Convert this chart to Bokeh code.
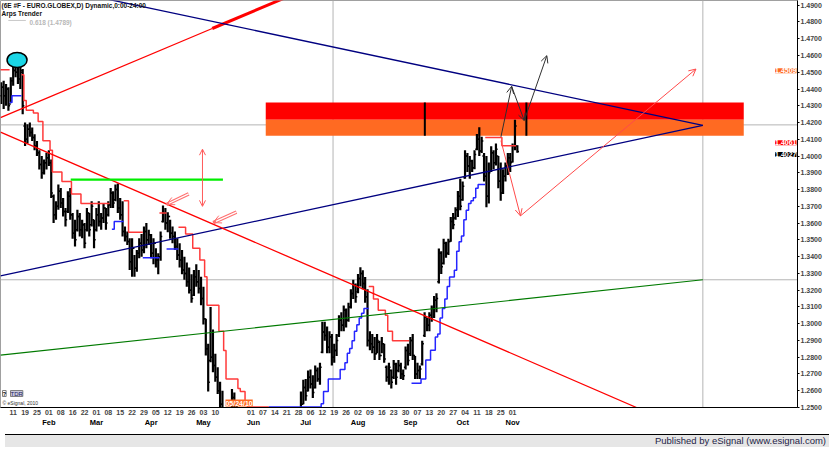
from bokeh.plotting import figure
from bokeh.models import (Range1d, FixedTicker, PrintfTickFormatter, Span, Label, Arrow, OpenHead, Div,
                          LinearAxis)
from bokeh.layouts import column
from bokeh.embed import file_html
from bokeh.resources import INLINE

# ---------------- data (trading-day index 0 = Mon 11 Jan 2010) ----------------
FIRST_BAR = -5
BAR_HIGH = [
    1.4440, 1.4450, 1.4430, 1.4410, 1.4470, 1.4550, 1.4580, 1.4560, 1.4560, 1.4520,
    1.4200, 1.4190, 1.4200, 1.4170, 1.4130, 1.4090, 1.4035, 1.4000, 1.3980, 1.4020,
    1.4035, 1.3980, 1.3770, 1.3730, 1.3830, 1.3810, 1.3750, 1.3690, 1.3790, 1.3810,
    1.3660, 1.3620, 1.3680, 1.3660, 1.3620, 1.3600, 1.3690, 1.3660, 1.3730, 1.3620,
    1.3690, 1.3730, 1.3660, 1.3720, 1.3690, 1.3730, 1.3810, 1.3790, 1.3830, 1.3836,
    1.3750, 1.3730, 1.3580, 1.3550, 1.3510, 1.3510, 1.3410, 1.3440, 1.3510, 1.3535,
    1.3580, 1.3600, 1.3560, 1.3535, 1.3510, 1.3450, 1.3420, 1.3550, 1.3705, 1.3690,
    1.3665, 1.3620, 1.3580, 1.3550, 1.3510, 1.3480, 1.3440, 1.3400, 1.3365, 1.3335,
    1.3295, 1.3320, 1.3355, 1.3320, 1.3280, 1.3220, 1.3030, 1.2880, 1.3100, 1.2966,
    1.2820, 1.2740, 1.2653, 1.2600, 1.2450, 1.2380, 1.2450, 1.2610, 1.2590, 1.2520,
    1.2400, 1.2350, 1.2380, 1.2400, 1.2340, 1.2300, 1.2300, 1.2330, 1.2240, 1.2100,
    1.2010, 1.2010, 1.2060, 1.2110, 1.2120, 1.2170, 1.2350, 1.2380, 1.2400, 1.2330,
    1.2340, 1.2380, 1.2300, 1.2320, 1.2290, 1.2350, 1.2596, 1.2665, 1.2670, 1.2720,
    1.2727, 1.2693, 1.2750, 1.2738, 1.2767, 1.3011, 1.3011, 1.2983, 1.2955, 1.2938,
    1.2881, 1.2938, 1.3051, 1.3068, 1.3108, 1.3091, 1.3125, 1.3205, 1.3262, 1.3239,
    1.3296, 1.3336, 1.3319, 1.3279, 1.3205, 1.2955, 1.2938, 1.2921, 1.2938, 1.2898,
    1.2921, 1.2881, 1.2750, 1.2767, 1.2727, 1.2784, 1.2767, 1.2784, 1.2767, 1.2727,
    1.2864, 1.2881, 1.2921, 1.2938, 1.2807, 1.2767, 1.2750, 1.2898, 1.3068, 1.3034,
    1.3068, 1.3108, 1.3165, 1.3182, 1.3449, 1.3432, 1.3506, 1.3489, 1.3506, 1.3637,
    1.3660, 1.3694, 1.3791, 1.3865, 1.3848, 1.4035, 1.4018, 1.4001, 1.3978, 1.4035,
    1.4132, 1.4172, 1.4115, 1.4018, 1.4001, 1.3961, 1.4058, 1.4035, 1.4075, 1.4001,
    1.3961, 1.3922, 1.3961, 1.4018, 1.4018, 1.4075, 1.4217, 1.4064,
]
BAR_LOW = [
    1.4310, 1.4280, 1.4300, 1.4270, 1.4320, 1.4420, 1.4470, 1.4430, 1.4400, 1.4250,
    1.4060, 1.4075, 1.4115, 1.4090, 1.4035, 1.4000, 1.3920, 1.3865, 1.3890, 1.3920,
    1.3940, 1.3750, 1.3600, 1.3620, 1.3680, 1.3690, 1.3640, 1.3580, 1.3660, 1.3620,
    1.3506, 1.3460, 1.3550, 1.3520, 1.3510, 1.3450, 1.3550, 1.3520, 1.3580, 1.3450,
    1.3550, 1.3580, 1.3560, 1.3600, 1.3560, 1.3640, 1.3690, 1.3690, 1.3730, 1.3660,
    1.3620, 1.3520, 1.3490, 1.3470, 1.3320, 1.3280, 1.3280, 1.3310, 1.3390, 1.3400,
    1.3420, 1.3450, 1.3470, 1.3390, 1.3355, 1.3335, 1.3295, 1.3375, 1.3603, 1.3560,
    1.3546, 1.3506, 1.3480, 1.3440, 1.3380, 1.3335, 1.3295, 1.3262, 1.3220, 1.3180,
    1.3125, 1.3165, 1.3220, 1.3180, 1.3110, 1.2995, 1.2810, 1.2596, 1.2770, 1.2710,
    1.2653, 1.2580, 1.2480, 1.2400, 1.2280, 1.2220, 1.2300, 1.2420, 1.2455, 1.2360,
    1.2250, 1.2200, 1.2230, 1.2270, 1.2150, 1.2140, 1.2110, 1.2180, 1.2050, 1.1960,
    1.1880, 1.1890, 1.1920, 1.1960, 1.1980, 1.2010, 1.2130, 1.2240, 1.2260, 1.2180,
    1.2220, 1.2250, 1.2180, 1.2190, 1.2150, 1.2200, 1.2450, 1.2520, 1.2540, 1.2596,
    1.2613, 1.2557, 1.2613, 1.2653, 1.2636, 1.2824, 1.2898, 1.2824, 1.2824, 1.2750,
    1.2767, 1.2807, 1.2921, 1.2955, 1.2955, 1.2977, 1.3011, 1.3091, 1.3148, 1.3125,
    1.3182, 1.3222, 1.3205, 1.3125, 1.2864, 1.2841, 1.2824, 1.2784, 1.2824, 1.2784,
    1.2824, 1.2767, 1.2653, 1.2636, 1.2613, 1.2670, 1.2636, 1.2710, 1.2670, 1.2664,
    1.2727, 1.2750, 1.2807, 1.2784, 1.2670, 1.2670, 1.2670, 1.2750, 1.2921, 1.2955,
    1.2955, 1.3011, 1.3034, 1.3068, 1.3239, 1.3296, 1.3353, 1.3393, 1.3410, 1.3489,
    1.3563, 1.3620, 1.3637, 1.3677, 1.3734, 1.3865, 1.3905, 1.3865, 1.3905, 1.3922,
    1.4035, 1.4001, 1.4018, 1.3848, 1.3694, 1.3717, 1.3905, 1.3922, 1.3944, 1.3808,
    1.3734, 1.3774, 1.3848, 1.3887, 1.3905, 1.3961, 1.4035, 1.4020,
]
BAR_OPEN = [
    1.4360, 1.4410, 1.4360, 1.4400, 1.4310, 1.4450, 1.4510, 1.4500, 1.4460, 1.4500,
    1.4180, 1.4100, 1.4160, 1.4140, 1.4110, 1.4060, 1.4020, 1.3950, 1.3900, 1.3960,
    1.3990, 1.3960, 1.3760, 1.3650, 1.3700, 1.3790, 1.3720, 1.3670, 1.3670, 1.3760,
    1.3650, 1.3540, 1.3560, 1.3640, 1.3560, 1.3590, 1.3560, 1.3660, 1.3590, 1.3620,
    1.3560, 1.3650, 1.3610, 1.3630, 1.3690, 1.3650, 1.3710, 1.3780, 1.3740, 1.3800,
    1.3690, 1.3650, 1.3550, 1.3520, 1.3490, 1.3370, 1.3450, 1.3330, 1.3420, 1.3480,
    1.3440, 1.3550, 1.3500, 1.3530, 1.3420, 1.3480, 1.3380, 1.3400, 1.3610, 1.3660,
    1.3600, 1.3640, 1.3540, 1.3520, 1.3460, 1.3410, 1.3380, 1.3320, 1.3300, 1.3250,
    1.3200, 1.3170, 1.3280, 1.3250, 1.3210, 1.3150, 1.3030, 1.2850, 1.2780, 1.2800,
    1.2750, 1.2680, 1.2600, 1.2520, 1.2440, 1.2330, 1.2300, 1.2420, 1.2560, 1.2480,
    1.2400, 1.2300, 1.2260, 1.2340, 1.2300, 1.2200, 1.2270, 1.2230, 1.2200, 1.2090,
    1.1990, 1.1950, 1.1960, 1.2000, 1.2090, 1.2020, 1.2130, 1.2300, 1.2280, 1.2380,
    1.2260, 1.2290, 1.2360, 1.2220, 1.2260, 1.2230, 1.2460, 1.2520, 1.2620, 1.2600,
    1.2680, 1.2640, 1.2620, 1.2720, 1.2670, 1.2830, 1.2950, 1.2930, 1.2860, 1.2920,
    1.2800, 1.2840, 1.2930, 1.3020, 1.2990, 1.3080, 1.3020, 1.3100, 1.3180, 1.3230,
    1.3190, 1.3270, 1.3300, 1.3240, 1.3160, 1.2900, 1.2880, 1.2860, 1.2820, 1.2890,
    1.2810, 1.2880, 1.2740, 1.2680, 1.2720, 1.2680, 1.2760, 1.2720, 1.2750, 1.2700,
    1.2740, 1.2840, 1.2820, 1.2900, 1.2810, 1.2700, 1.2720, 1.2760, 1.2930, 1.3040,
    1.2990, 1.3050, 1.3090, 1.3140, 1.3250, 1.3420, 1.3360, 1.3480, 1.3420, 1.3490,
    1.3610, 1.3630, 1.3680, 1.3760, 1.3740, 1.3870, 1.4000, 1.3940, 1.3970, 1.3930,
    1.4040, 1.4100, 1.4030, 1.4000, 1.3880, 1.3760, 1.3910, 1.4020, 1.3960, 1.4000,
    1.3850, 1.3780, 1.3880, 1.3940, 1.3990, 1.3965, 1.4060, 1.4060,
]
BAR_CLOSE = [
    1.4410, 1.4360, 1.4400, 1.4300, 1.4450, 1.4510, 1.4500, 1.4460, 1.4510, 1.4300,
    1.4100, 1.4160, 1.4140, 1.4110, 1.4060, 1.4020, 1.3950, 1.3900, 1.3960, 1.3990,
    1.3960, 1.3780, 1.3650, 1.3700, 1.3790, 1.3720, 1.3670, 1.3620, 1.3760, 1.3650,
    1.3540, 1.3500, 1.3640, 1.3560, 1.3590, 1.3480, 1.3660, 1.3560, 1.3700, 1.3500,
    1.3650, 1.3610, 1.3630, 1.3690, 1.3600, 1.3710, 1.3780, 1.3720, 1.3800, 1.3690,
    1.3650, 1.3550, 1.3520, 1.3490, 1.3370, 1.3450, 1.3330, 1.3420, 1.3480, 1.3440,
    1.3550, 1.3500, 1.3530, 1.3420, 1.3480, 1.3380, 1.3400, 1.3520, 1.3660, 1.3600,
    1.3640, 1.3540, 1.3520, 1.3460, 1.3410, 1.3380, 1.3320, 1.3300, 1.3250, 1.3200,
    1.3150, 1.3280, 1.3250, 1.3210, 1.3150, 1.3030, 1.2850, 1.2650, 1.2800, 1.2750,
    1.2680, 1.2600, 1.2520, 1.2440, 1.2330, 1.2300, 1.2420, 1.2560, 1.2480, 1.2400,
    1.2300, 1.2260, 1.2340, 1.2300, 1.2200, 1.2270, 1.2230, 1.2200, 1.2090, 1.1990,
    1.1950, 1.1960, 1.2000, 1.2090, 1.2000, 1.2130, 1.2300, 1.2280, 1.2380, 1.2260,
    1.2290, 1.2360, 1.2220, 1.2260, 1.2230, 1.2330, 1.2520, 1.2620, 1.2570, 1.2680,
    1.2640, 1.2590, 1.2720, 1.2670, 1.2740, 1.2950, 1.2930, 1.2860, 1.2920, 1.2800,
    1.2840, 1.2900, 1.3020, 1.2990, 1.3080, 1.3020, 1.3100, 1.3180, 1.3230, 1.3160,
    1.3270, 1.3300, 1.3240, 1.3160, 1.2900, 1.2880, 1.2860, 1.2820, 1.2900, 1.2810,
    1.2880, 1.2790, 1.2680, 1.2740, 1.2650, 1.2760, 1.2680, 1.2750, 1.2700, 1.2690,
    1.2840, 1.2780, 1.2900, 1.2810, 1.2700, 1.2720, 1.2730, 1.2880, 1.3040, 1.2990,
    1.3050, 1.3090, 1.3140, 1.3150, 1.3420, 1.3340, 1.3480, 1.3420, 1.3490, 1.3610,
    1.3590, 1.3680, 1.3760, 1.3700, 1.3820, 1.4000, 1.3940, 1.3970, 1.3930, 1.4010,
    1.4100, 1.4030, 1.4090, 1.3880, 1.3760, 1.3900, 1.4020, 1.3960, 1.4040, 1.3850,
    1.3780, 1.3880, 1.3940, 1.3990, 1.3960, 1.4060, 1.4180, 1.4027,
]

# Arps Trender runs: (first bar, last bar, level)
TREND_RED = [
    (-5, -2, 1.4515),
    (4, 4, 1.4485), (5, 5, 1.4331), (6, 8, 1.4274), (9, 10, 1.4257), (11, 12, 1.4206),
    (13, 15, 1.4092), (16, 16, 1.4035), (17, 20, 1.3905), (21, 24, 1.3848),
    (25, 28, 1.3774), (29, 40, 1.3717),
    (47, 48, 1.3734), (49, 54, 1.3546),
    (62, 64, 1.3660),
    (70, 72, 1.3575), (73, 75, 1.3535), (76, 78, 1.3450), (79, 80, 1.3380), (81, 81, 1.3280),
    (82, 86, 1.3110), (87, 88, 1.2955), (89, 89, 1.2840), (90, 94, 1.2670), (95, 95, 1.2613),
    (96, 97, 1.2596), (98, 98, 1.2540), (99, 107, 1.2503),
    (150, 151, 1.3222), (152, 153, 1.3148), (154, 156, 1.3080), (157, 157, 1.3051),
    (158, 159, 1.2955), (160, 166, 1.2898),
    (199, 205, 1.4110), (206, 211, 1.4061),
]
TREND_BLUE = [
    (-1, -1, 1.4320), (0, 3, 1.4360),
    (42, 42, 1.3563), (43, 46, 1.3610),
    (55, 61, 1.3393),
    (65, 69, 1.3445),
    (108, 129, 1.2503), (130, 130, 1.2522), (131, 132, 1.2596), (133, 137, 1.2670),
    (138, 139, 1.2727), (140, 140, 1.2767), (141, 141, 1.2824), (142, 142, 1.2852),
    (143, 143, 1.2898), (144, 144, 1.2955), (145, 145, 1.2994), (146, 146, 1.3034),
    (147, 147, 1.3063), (148, 149, 1.3091),
    (168, 171, 1.2645), (172, 173, 1.2670), (174, 175, 1.2784), (176, 177, 1.2841),
    (178, 178, 1.2921), (179, 179, 1.2938), (180, 180, 1.3034), (181, 181, 1.3091),
    (182, 182, 1.3148), (183, 183, 1.3222), (184, 185, 1.3279), (186, 186, 1.3319),
    (187, 187, 1.3432), (188, 188, 1.3489), (189, 189, 1.3523), (190, 190, 1.3620),
    (191, 191, 1.3677), (192, 192, 1.3717), (193, 193, 1.3734), (194, 194, 1.3751),
    (195, 195, 1.3808), (196, 198, 1.3831),
]

WEEK_LABELS = ["11", "19", "25", "01", "08", "16", "22", "01", "08", "15", "22", "29",
               "05", "12", "19", "26", "03", "10", "17", "24", "01", "07", "14", "21", "28",
               "06", "12", "19", "26", "02", "09", "16", "23", "30", "07", "13", "20", "27",
               "04", "11", "18", "25", "01"]
MONTH_NAMES = ["Feb", "Mar", "Apr", "May", "Jun", "Jul", "Aug", "Sep", "Oct", "Nov"]
MONTH_START = [15, 35, 58, 80, 101, 123, 145, 167, 189, 210]
PRICE_TICKS = [1.25, 1.26, 1.27, 1.28, 1.29, 1.30, 1.31, 1.32, 1.33, 1.34, 1.35, 1.36, 1.37,
               1.38, 1.39, 1.40, 1.41, 1.42, 1.43, 1.44, 1.45, 1.46, 1.47, 1.48, 1.49]

# drawing tools (bar index, price)
RED_CHANNEL_THIN = ([-5.33, 83.7], [1.4229, 1.4761])
RED_CHANNEL_THICK = ([83.7, 120.0], [1.4761, 1.4978])
NAVY_UPPER = ([-5.33, 290.0], [1.5071, 1.4183])
NAVY_LOWER = ([-5.33, 290.0], [1.3285, 1.4183])
GREEN_TREND = ([-5.33, 290.0], [1.2812, 1.3262])
RED_DOWNTREND = ([-5.33, 262.1], [1.4143, 1.2500])
GREEN_LEVEL = ([24.2, 88.2], [1.3859, 1.3859])
ZONE_X = (106.2, 307.2)
ZONE_LEVELS = (1.4121, 1.4217, 1.4320)
ZONE_MARKS = [173.1, 215.8]
BLACK_PROJ = ([205.1, 209.6, 214.9, 224.4], [1.4115, 1.4416, 1.4212, 1.4599])
RED_PROJ = ([205.1, 213.3, 287.1], [1.4092, 1.3643, 1.4519])
TARGET_ARROW = (79.6, 1.3859, 1.4041, 1.3700)
HOLLOW_ARROWS = [((73.8, 1.3774), (64.4, 1.3711)), ((93.9, 1.3666), (84.1, 1.3603))]
TOP_MARK = (1.64, 1.4573)
CROSS_H = [1.4186, 1.3262]
CROSS_V = [290.0, 134.5]
PRICE_TAGS = [("1.4509", 1.4509, "#ff6a22", 0), ("1.4061", 1.4061, "#ff0000", 3),
              ("1.4027", 1.4027, "#000000", -3)]
CURSOR_DATE = (95, "05/24/10")

FONT = "Liberation Sans"

p = figure(width=824, height=429, x_range=Range1d(-5.33, 329.8), y_range=Range1d(1.25, 1.4928),
           y_axis_location="right", output_backend="svg", toolbar_location=None,
           min_border_left=0, min_border_top=0, min_border_right=0, min_border_bottom=0,
           background_fill_color="white", border_fill_color="white")
p.outline_line_color = "#a0a0a0"
p.xgrid.visible = False
p.ygrid.visible = False

week_pos = [5 * k for k in range(len(WEEK_LABELS))]
overrides = {pos: lab for pos, lab in zip(week_pos, WEEK_LABELS)}
overrides[90] = ""
overrides[95] = ""
p.xaxis.ticker = FixedTicker(ticks=week_pos, minor_ticks=[])
p.xaxis.major_label_overrides = overrides
p.xaxis.major_tick_out = 0
p.xaxis.major_tick_in = 0
p.xaxis.minor_tick_out = 0
p.xaxis.major_label_standoff = 2
p.xaxis.major_label_text_font = FONT
p.xaxis.major_label_text_font_size = "7px"
p.xaxis.major_label_text_font_style = "bold"
p.xaxis.axis_line_color = "black"

month_axis = LinearAxis(ticker=FixedTicker(ticks=MONTH_START, minor_ticks=[]),
                        major_label_overrides=dict(zip(MONTH_START, MONTH_NAMES)),
                        axis_line_color=None, major_tick_out=0, major_tick_in=0, minor_tick_out=0,
                        minor_tick_in=0, major_label_standoff=0, major_label_text_font=FONT,
                        major_label_text_font_size="7.5px", major_label_text_font_style="bold",
                        major_label_text_color="black")
p.add_layout(month_axis, "below")

p.yaxis.ticker = FixedTicker(ticks=PRICE_TICKS, minor_ticks=[])
p.yaxis.formatter = PrintfTickFormatter(format="%.4f")
p.yaxis.major_tick_out = 2
p.yaxis.major_tick_in = 0
p.yaxis.minor_tick_out = 0
p.yaxis.major_label_standoff = 1
p.yaxis.major_label_text_font = FONT
p.yaxis.major_label_text_font_size = "7px"
p.yaxis.major_label_text_font_style = "bold"
p.yaxis.axis_line_color = "black"

for loc in CROSS_H:
    p.add_layout(Span(location=loc, dimension="width", line_color="#b4b4b4", line_width=1, level="underlay"))
for loc in CROSS_V:
    p.add_layout(Span(location=loc, dimension="height", line_color="#b4b4b4", line_width=1, level="underlay"))

# supply zone
p.quad(left=[ZONE_X[0]], right=[ZONE_X[1]], bottom=[ZONE_LEVELS[1]], top=[ZONE_LEVELS[2]],
       fill_color="#ff0000", line_color=None)
p.quad(left=[ZONE_X[0]], right=[ZONE_X[1]], bottom=[ZONE_LEVELS[0]], top=[ZONE_LEVELS[1]],
       fill_color="#ff6a22", line_color=None)
p.segment(x0=ZONE_MARKS, y0=[ZONE_LEVELS[0]] * 2, x1=ZONE_MARKS, y1=[ZONE_LEVELS[2]] * 2,
          line_color="black", line_width=2)

# price bars
xs = list(range(FIRST_BAR, FIRST_BAR + len(BAR_HIGH)))
p.segment(x0=xs, y0=BAR_LOW, x1=xs, y1=BAR_HIGH, line_color="black", line_width=2.2)
p.segment(x0=[x - 0.7 for x in xs], y0=BAR_OPEN, x1=xs, y1=BAR_OPEN, line_color="black", line_width=1.5)
p.segment(x0=xs, y0=BAR_CLOSE, x1=[x + 0.7 for x in xs], y1=BAR_CLOSE, line_color="black", line_width=1.5)


def step_paths(runs):
    all_x, all_y, cx, cy, prev = [], [], [], [], None
    for s, e, v in runs:
        if prev is not None and s != prev + 1:
            all_x.append(cx)
            all_y.append(cy)
            cx, cy = [], []
        cx += [s - 0.5, e + 0.5]
        cy += [v, v]
        prev = e
    if cx:
        all_x.append(cx)
        all_y.append(cy)
    return all_x, all_y


rx, ry = step_paths(TREND_RED)
p.multi_line(xs=rx, ys=ry, line_color="#ff3a3a", line_width=1.5)
bx, by = step_paths(TREND_BLUE)
p.multi_line(xs=bx, ys=by, line_color="#2525ff", line_width=1.5)

# trend lines
p.line(*RED_CHANNEL_THIN, line_color="#ff0000", line_width=1.3)
p.line(*RED_CHANNEL_THICK, line_color="#ff0000", line_width=3)
p.line(*NAVY_UPPER, line_color="#000080", line_width=1.3)
p.line(*NAVY_LOWER, line_color="#000080", line_width=1.3)
p.line(*GREEN_TREND, line_color="#007a00", line_width=1.2)
p.line(*RED_DOWNTREND, line_color="#ff0000", line_width=1.3)
p.line(*GREEN_LEVEL, line_color="#00ee00", line_width=2.2)

# projection paths
bpx, bpy = BLACK_PROJ
for i in range(len(bpx) - 1):
    p.add_layout(Arrow(x_start=bpx[i], y_start=bpy[i], x_end=bpx[i + 1], y_end=bpy[i + 1],
                       line_color="#303030", line_width=1,
                       end=OpenHead(size=7, line_color="#303030", line_width=1)))
rpx, rpy = RED_PROJ
for i in range(len(rpx) - 1):
    p.add_layout(Arrow(x_start=rpx[i], y_start=rpy[i], x_end=rpx[i + 1], y_end=rpy[i + 1],
                       line_color="#ff4a4a", line_width=1,
                       end=OpenHead(size=7, line_color="#ff4a4a", line_width=1)))

tx, tmid, tup, tdn = TARGET_ARROW
for tip in (tup, tdn):
    p.add_layout(Arrow(x_start=tx, y_start=tmid, x_end=tx, y_end=tip, line_color="#ff5a5a",
                       line_width=1, end=OpenHead(size=6, line_color="#ff5a5a", line_width=1)))

for (sx, sy), (ex, ey) in HOLLOW_ARROWS:
    p.line([sx, ex], [sy, ey], line_color="#ff7070", line_width=3.5)
    p.line([sx, ex + (sx - ex) * 0.12], [sy, ey + (sy - ey) * 0.12], line_color="white", line_width=1.3)
    p.add_layout(Arrow(x_start=sx, y_start=sy, x_end=ex, y_end=ey, line_alpha=0,
                       end=OpenHead(size=8, line_color="#ff7070", line_width=1)))

p.ellipse(x=[TOP_MARK[0]], y=[TOP_MARK[1]], width=20, height=15, width_units="screen",
          height_units="screen", fill_color="#1ad6e6", line_color="black", line_width=1.5)

# header texts
X0, YTOP = -5.33, 1.4928
p.add_layout(Label(x=X0, y=YTOP, x_offset=1, y_offset=-1, text="(6E #F - EURO.GLOBEX,D) Dynamic,0:00-24:00",
                   text_font=FONT, text_font_size="6.5px", text_font_style="bold",
                   text_color="#101010", text_baseline="top"))
p.add_layout(Label(x=X0, y=YTOP, x_offset=1, y_offset=-9, text="Arps Trender",
                   text_font=FONT, text_font_size="6.5px", text_font_style="bold",
                   text_color="#101010", text_baseline="top"))
p.line([-2.05, 5.33], [1.4809, 1.4809], line_color="#c8c8c8", line_width=1)
p.add_layout(Label(x=X0, y=YTOP, x_offset=29, y_offset=-18, text="0.618 (1.4789)",
                   text_font=FONT, text_font_size="6.5px", text_font_style="bold",
                   text_color="#b8b8b8", text_baseline="top"))

# price tags at the right edge and the cursor date at the bottom edge
for txt, lvl, col, dy in PRICE_TAGS:
    p.add_layout(Label(x=329.8, y=lvl, x_offset=-1, y_offset=dy, text=txt, text_font=FONT,
                       text_font_size="7px", text_font_style="bold", text_color="white",
                       text_align="right", text_baseline="middle", background_fill_color=col))
p.add_layout(Label(x=CURSOR_DATE[0], y=1.25, y_offset=1, text=CURSOR_DATE[1], text_font=FONT,
                   text_font_size="7px", text_font_style="bold", text_color="white",
                   text_align="center", text_baseline="bottom", background_fill_color="#ff6a22"))

# bottom-left badges
p.add_layout(Label(x=X0, y=1.25, x_offset=2, y_offset=11, text="?", text_font=FONT,
                   text_font_size="6px", text_font_style="bold", text_color="black",
                   background_fill_color="white", border_line_color="#808080"))
p.add_layout(Label(x=X0, y=1.25, x_offset=10, y_offset=11, text="TDR", text_font=FONT,
                   text_font_size="6px", text_color="#202060",
                   background_fill_color="#c8c8dc", border_line_color="#808080"))
p.add_layout(Label(x=X0, y=1.25, x_offset=2, y_offset=2, text="\u00a9 eSignal, 2010", text_font=FONT,
                   text_font_size="5px", text_color="#303030"))

footer = Div(text="Published by eSignal (www.esignal.com)", width=824, height=13,
             styles={"background-color": "#e6e6e6", "border-top": "1px solid #000",
                     "text-align": "right", "font-family": "Liberation Sans",
                     "font-size": "9.5px", "color": "#1e1e46", "line-height": "12px",
                     "box-sizing": "border-box", "padding-right": "3px"})

layout = column(p, footer, spacing=0)
open("out.html", "w").write(file_html(layout, INLINE))
